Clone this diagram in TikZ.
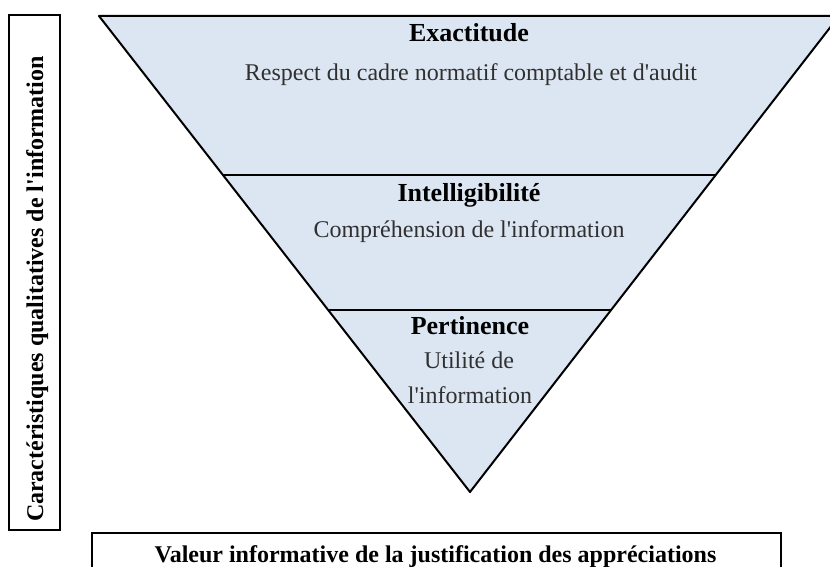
\documentclass[tikz,border=0pt]{standalone}
\usepackage{fontspec}
\setmainfont{Liberation Serif}
\usetikzlibrary{calc}
\definecolor{trifill}{HTML}{DCE6F2}
\definecolor{txtgray}{HTML}{303030}
\newcommand{\apos}{\textquotesingle}
\begin{document}
\begin{tikzpicture}[x=0.5pt,y=-0.5pt,
  edge/.style={line width=1pt, black},
  frame/.style={draw, line width=1pt, inner sep=0pt},
  title/.style={font=\fontsize{13}{15}\selectfont\bfseries, anchor=base, inner sep=0pt},
  body/.style={font=\fontsize{12}{14}\selectfont, text=txtgray, anchor=base, inner sep=0pt},
  side/.style={font=\fontsize{12}{14}\selectfont\bfseries, anchor=base, inner sep=0pt}]
\clip (0,0) rectangle (830,567);
\fill[white] (0,0) rectangle (830,567);
% triangle
\coordinate (TL) at (99,16);
\coordinate (TR) at (839,16);
\coordinate (AP) at (470,492);
\coordinate (L1) at ($(TL)!0.334!(AP)$);
\coordinate (R1) at ($(TR)!0.334!(AP)$);
\coordinate (L2) at ($(TL)!0.6176!(AP)$);
\coordinate (R2) at ($(TR)!0.6176!(AP)$);
\fill[trifill] (TL) -- (TR) -- (AP) -- cycle;
\draw[edge, line join=round] (TL) -- (TR) -- (AP) -- cycle;
\draw[edge] (L1) -- (R1);
\draw[edge] (L2) -- (R2);
% texts in triangle
\node[title] (t1) at (469,42) {Exactitude};
\node[body]  (b1) at (471,81) {Respect du cadre normatif comptable et d\apos audit};
\node[title] (t2) at (469,201) {Intelligibilité};
\node[body]  (b2) at (469,237) {Compréhension de l\apos information};
\node[title] (t3) at (470,334) {Pertinence};
\node[body]  (b3a) at (469,368) {Utilité de};
\node[body]  (b3b) at (470,403) {l\apos information};
% left box
\node[frame, minimum width=25.5pt, minimum height=257.5pt] (sidebox) at (34.5,272.5) {};
\node[side, rotate=90] (sidetext) at (43,289) {Caractéristiques qualitatives de l\apos information};
% bottom box
\node[frame, minimum width=344.5pt, minimum height=40pt, anchor=north west] (valbox) at (91,532) {};
\node[side] (valtext) at (435.5,562) {Valeur informative de la justification des appréciations};
\end{tikzpicture}
\end{document}
